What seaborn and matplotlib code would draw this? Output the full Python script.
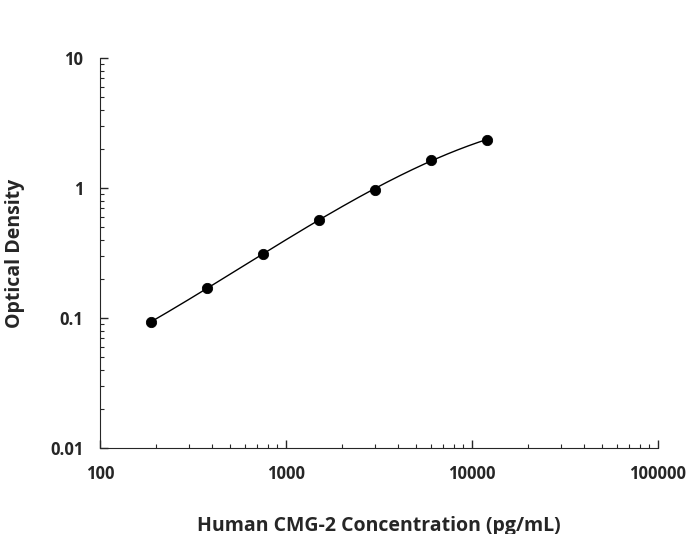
import numpy as np
import matplotlib
matplotlib.use("Agg")
import matplotlib.pyplot as plt
import seaborn as sns

concentration = [187.5, 375, 750, 1500, 3000, 6000, 12000]
optical_density = [0.093, 0.17, 0.31, 0.57, 0.97, 1.65, 2.35]

sns.set_style("ticks")
plt.rcParams['font.family'] = ['Open Sans', 'DejaVu Sans']

fig = plt.figure(figsize=(6.94, 5.34), dpi=100)
ax = fig.add_axes([0.144, 0.161, 0.804, 0.730])

# smooth fitted curve in log-log space
lx = np.log10(concentration)
ly = np.log10(optical_density)
coef = np.polyfit(lx, ly, 3)
xs = np.linspace(lx[0], lx[-1], 200)
ax.plot(10 ** xs, 10 ** np.polyval(coef, xs), color="black", lw=1)

sns.scatterplot(x=concentration, y=optical_density, color="black", s=55,
                edgecolor="black", zorder=3, ax=ax)

ax.set_xscale("log")
ax.set_yscale("log")
ax.set_xlim(100, 100000)
ax.set_ylim(0.01, 10)
ax.set_xticks([100, 1000, 10000, 100000])
ax.set_xticklabels(["100", "1000", "10000", "100000"])
ax.set_yticks([0.01, 0.1, 1, 10])
ax.set_yticklabels(["0.01", "0.1", "1", "10"])
ax.tick_params(which="major", direction="in", length=6, width=1, labelsize=12, pad=12)
ax.tick_params(which="minor", direction="in", length=3, width=0.8)
for lab in ax.get_xticklabels() + ax.get_yticklabels():
    lab.set_fontweight("bold")
sns.despine(ax=ax)
ax.set_xlabel("Human CMG-2 Concentration (pg/mL)", fontsize=14, fontweight="bold", labelpad=24)
ax.set_ylabel("Optical Density", fontsize=14, fontweight="bold", labelpad=18)

fig.savefig("out.png", dpi=100)
